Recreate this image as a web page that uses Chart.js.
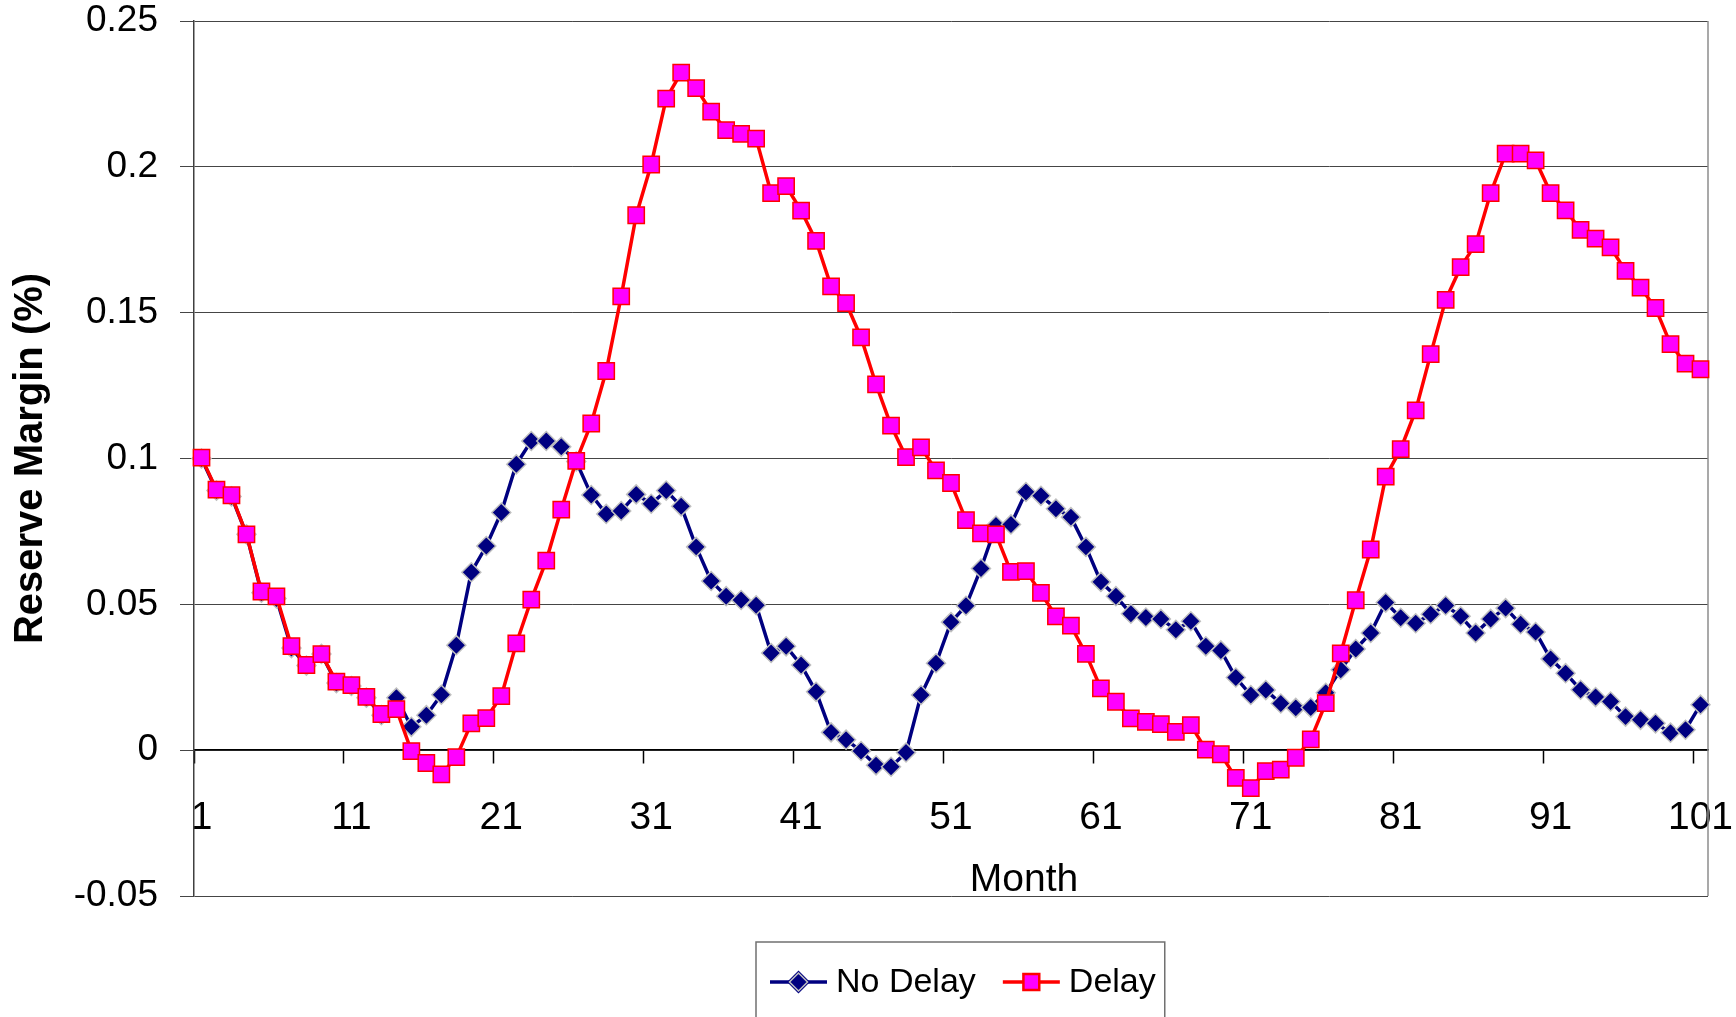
<!DOCTYPE html>
<html lang="en">
<head>
  <meta charset="UTF-8" />
  <title>Reserve Margin</title>
  <script src="https://cdn.jsdelivr.net/npm/chart.js"></script>
  <style>
    body {
      margin: 0;
      background: #fff;
    }
    #wrap {
      width: 1736px;
      height: 1017px;
    }
  </style>
</head>
<body>
  <div id="wrap">
    <canvas id="marginChart" width="1736" height="1017"></canvas>
  </div>

  <script>
    // month index on the category axis
    const months = [
      1, 2, 3, 4, 5, 6, 7, 8, 9, 10,
      11, 12, 13, 14, 15, 16, 17, 18, 19, 20,
      21, 22, 23, 24, 25, 26, 27, 28, 29, 30,
      31, 32, 33, 34, 35, 36, 37, 38, 39, 40,
      41, 42, 43, 44, 45, 46, 47, 48, 49, 50,
      51, 52, 53, 54, 55, 56, 57, 58, 59, 60,
      61, 62, 63, 64, 65, 66, 67, 68, 69, 70,
      71, 72, 73, 74, 75, 76, 77, 78, 79, 80,
      81, 82, 83, 84, 85, 86, 87, 88, 89, 90,
      91, 92, 93, 94, 95, 96, 97, 98, 99, 100,
      101
    ];

    const noDelay = [
      0.100, 0.089, 0.087, 0.074, 0.054, 0.052, 0.035, 0.029, 0.033, 0.023,
      0.022, 0.018, 0.012, 0.018, 0.008, 0.012, 0.019, 0.036, 0.061, 0.070,
      0.0815, 0.098, 0.106, 0.106, 0.104, 0.099, 0.0875, 0.081, 0.082, 0.0877,
      0.0845, 0.089, 0.0836, 0.0697, 0.058, 0.0528, 0.0515, 0.0497, 0.0333, 0.0356,
      0.0292, 0.020, 0.0061, 0.0036, -0.0003, -0.0052, -0.0057, -0.0008, 0.0189, 0.0298,
      0.0439, 0.0495, 0.0623, 0.077, 0.0774, 0.0885, 0.0872, 0.0828, 0.0799, 0.0697,
      0.0577, 0.0528, 0.0468, 0.0455, 0.045, 0.0413, 0.0442, 0.0356, 0.0342, 0.0249,
      0.0189, 0.0206, 0.016, 0.0145, 0.0146, 0.0197, 0.0276, 0.0347, 0.0402, 0.0506,
      0.0454, 0.0435, 0.0466, 0.0496, 0.0459, 0.0402, 0.045, 0.0487, 0.0432, 0.0405,
      0.0313, 0.0264, 0.0207, 0.0182, 0.0167, 0.0115, 0.0104, 0.0092, 0.006, 0.007,
      0.0156
    ];

    const delay = [
      0.1003, 0.0893, 0.0874, 0.074, 0.0544, 0.0527, 0.0357, 0.0292, 0.0329, 0.0235,
      0.0223, 0.0183, 0.0124, 0.0141, -0.0003, -0.0044, -0.0083, -0.0024, 0.0092, 0.011,
      0.0185, 0.0366, 0.0516, 0.065, 0.0825, 0.0992, 0.112, 0.130, 0.1556, 0.1834,
      0.2008, 0.2234, 0.2323, 0.227, 0.2189, 0.2126, 0.2113, 0.2097, 0.191, 0.1934,
      0.185, 0.1746, 0.159, 0.1533, 0.1415, 0.1254, 0.1113, 0.1005, 0.1038, 0.0959,
      0.0916, 0.0789, 0.0743, 0.074, 0.0611, 0.0614, 0.0539, 0.0459, 0.0427, 0.033,
      0.0212, 0.0166, 0.0109, 0.0097, 0.0089, 0.0063, 0.0086, 0.0002, -0.0014, -0.0095,
      -0.013, -0.0072, -0.0067, -0.0026, 0.0037, 0.0161, 0.0332, 0.0514, 0.0688, 0.0938,
      0.1032, 0.1165, 0.1358, 0.1544, 0.1656, 0.1735, 0.191, 0.2045, 0.2045, 0.2022,
      0.191, 0.1851, 0.1784, 0.1754, 0.1724, 0.1643, 0.1586, 0.1516, 0.1392, 0.1325,
      0.1306
    ];

    const xTickLabels = [1, 11, 21, 31, 41, 51, 61, 71, 81, 91, 101];
    const yTickValues = [-0.05, 0, 0.05, 0.1, 0.15, 0.2, 0.25];
    const yTickLabels = ['-0.05', '0', '0.05', '0.1', '0.15', '0.2', '0.25'];

    const FONT = "'Liberation Sans', Arial, sans-serif";

    // right edge of the plot box, and the x title (sits right of centre, as in Excel)
    const frame = {
      id: 'frame',
      beforeDatasetsDraw(chart) {
        const { ctx, chartArea: a, scales } = chart;
        ctx.save();
        ctx.strokeStyle = '#8c8c8c';
        ctx.lineWidth = 1.5;
        ctx.beginPath();
        ctx.moveTo(a.right, a.top);
        ctx.lineTo(a.right, a.bottom);
        ctx.stroke();

        ctx.font = '39px ' + FONT;
        ctx.fillStyle = '#000';
        ctx.textAlign = 'center';
        ctx.textBaseline = 'middle';
        ctx.fillText('Month', 1024, scales.y.getPixelForValue(0) + 130);
        ctx.restore();
      }
    };

    // Excel-style legend: line + marker + line, boxed
    const boxLegend = {
      id: 'boxLegend',
      afterDraw(chart) {
        const { ctx } = chart;
        const left = 756, top = 942;
        const cy = 982;
        const gap = 27;
        ctx.save();
        ctx.font = '34px ' + FONT;
        ctx.textBaseline = 'middle';
        let x = left + 14;
        chart.data.datasets.forEach((ds) => {
          ctx.strokeStyle = ds.borderColor;
          ctx.lineWidth = 3.5;
          ctx.beginPath();
          ctx.moveTo(x, cy);
          ctx.lineTo(x + 57, cy);
          ctx.stroke();
          Chart.helpers.drawPoint(ctx, {
            pointStyle: ds.pointStyle,
            radius: ds.pointStyle === 'rect' ? 10.5 : 9,
            rotation: 0,
            borderWidth: ds.pointBorderWidth
          }, x + 28.5, cy);
          ctx.fillStyle = ds.pointBackgroundColor;
          ctx.strokeStyle = ds.pointBorderColor;
          ctx.lineWidth = ds.pointBorderWidth;
          ctx.fill();
          ctx.stroke();
          ctx.fillStyle = '#000';
          ctx.fillText(ds.label, x + 66, cy + 1);
          x += 66 + ctx.measureText(ds.label).width + gap;
        });
        ctx.strokeStyle = '#707070';
        ctx.lineWidth = 1.5;
        ctx.strokeRect(left, top, x - gap + 9 - left, 120);
        ctx.restore();
      }
    };

    const ctx = document.getElementById('marginChart').getContext('2d');

    new Chart(ctx, {
      type: 'line',
      data: {
        labels: months,
        datasets: [
          {
            label: 'No Delay',
            data: noDelay,
            order: 1,
            borderColor: '#000080',
            borderWidth: 3.5,
            pointStyle: 'rectRot',
            pointRadius: 9.5,
            pointBackgroundColor: '#000080',
            pointBorderColor: '#c0c0c0',
            pointBorderWidth: 1.5,
            tension: 0
          },
          {
            label: 'Delay',
            data: delay,
            order: 0,
            borderColor: '#ff0000',
            borderWidth: 3.5,
            pointStyle: 'rect',
            pointRadius: 11.5,
            pointBackgroundColor: '#ff00ff',
            pointBorderColor: '#ff0000',
            pointBorderWidth: 1.5,
            tension: 0
          }
        ]
      },
      options: {
        responsive: false,
        animation: false,
        layout: {
          padding: { left: 0, right: 28, top: 21, bottom: 121 }
        },
        plugins: {
          legend: { display: false },
          tooltip: { enabled: false }
        },
        scales: {
          x: {
            type: 'category',
            position: { y: 0 },
            offset: true,
            afterFit: (scale) => {
              scale.paddingLeft = 0;
              scale.paddingRight = 0;
            },
            grid: {
              offset: true,
              drawOnChartArea: false,
              drawTicks: true,
              tickLength: 13,
              tickWidth: 1.5,
              tickColor: (c) => xTickLabels.includes(months[c.index]) ? '#000' : 'rgba(0,0,0,0)'
            },
            border: { display: true, color: '#000', width: 1.5 },
            ticks: {
              autoSkip: false,
              maxRotation: 0,
              padding: 32,
              color: '#000',
              font: { family: FONT, size: 39 },
              callback: (v, i) => xTickLabels.includes(months[i]) ? String(months[i]) : ''
            },
            title: { display: false }
          },
          y: {
            min: -0.05,
            max: 0.25,
            afterBuildTicks: (scale) => {
              scale.ticks = yTickValues.map((v) => ({ value: v }));
            },
            afterFit: (scale) => {
              scale.width = 194;
              scale.paddingTop = 0;
              scale.paddingBottom = 0;
            },
            grid: {
              color: '#454545',
              lineWidth: 1,
              tickLength: 14,
              tickColor: '#454545'
            },
            border: { display: true, color: '#404040', width: 1.5 },
            ticks: {
              padding: 22,
              color: '#000',
              font: { family: FONT, size: 37, lineHeight: 1.15 },
              callback: (v, i) => yTickLabels[i]
            },
            title: {
              display: true,
              text: 'Reserve Margin (%)',
              color: '#000',
              font: { family: FONT, size: 40, weight: 'bold' },
              padding: { top: 7, bottom: 0 }
            }
          }
        }
      },
      plugins: [frame, boxLegend]
    });
  </script>
</body>
</html>
